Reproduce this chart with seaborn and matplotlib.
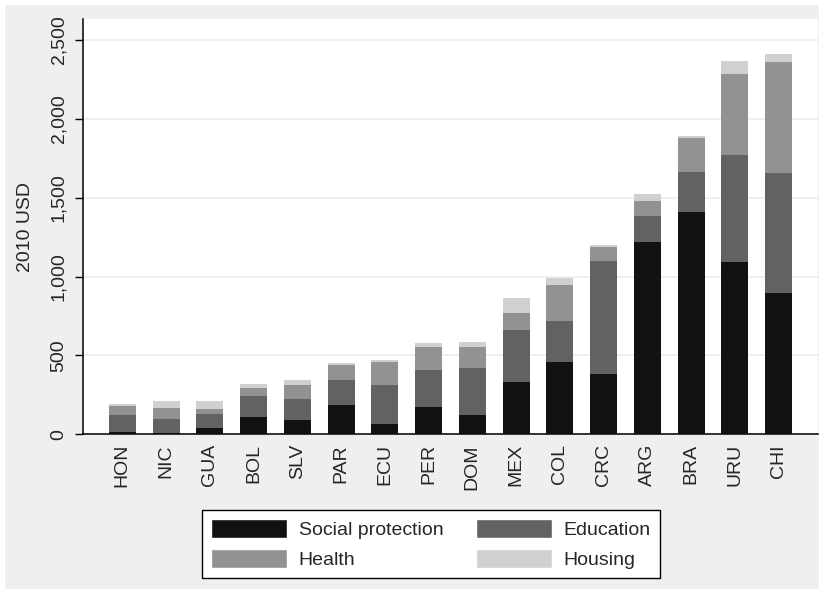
import pandas as pd
import seaborn as sns
import matplotlib.pyplot as plt
from matplotlib.patches import Rectangle, Patch

countries = ['HON', 'NIC', 'GUA', 'BOL', 'SLV', 'PAR', 'ECU', 'PER',
             'DOM', 'MEX', 'COL', 'CRC', 'ARG', 'BRA', 'URU', 'CHI']
social = [13, 6, 38, 109, 89, 185, 64, 173, 122, 332, 458, 382, 1219, 1409, 1092, 895]
education = [108, 90, 90, 134, 134, 160, 249, 235, 298, 329, 260, 716, 164, 253, 678, 761]
health = [58, 70, 32, 51, 90, 95, 147, 145, 133, 108, 228, 87, 93, 218, 513, 703]
housing = [13, 45, 51, 25, 32, 11, 12, 28, 32, 95, 47, 15, 49, 10, 82, 51]
yticks = [0, 500, 1000, 1500, 2000, 2500]
ytick_labels = ['0', '500', '1,000', '1,500', '2,000', '2,500']

# tabla con los acumulados para apilar
df = pd.DataFrame({'country': countries, 'social': social, 'education': education,
                   'health': health, 'housing': housing})
df['c1'] = df['social']
df['c2'] = df['c1'] + df['education']
df['c3'] = df['c2'] + df['health']
df['c4'] = df['c3'] + df['housing']

sns.set_style("white")
plt.rcParams['font.family'] = ['Liberation Sans', 'DejaVu Sans']

fig = plt.figure(figsize=(8.2, 5.89), dpi=100, facecolor='white')
fig.patches.append(Rectangle((5 / 820, 0), 1, 1 - 5 / 589, transform=fig.transFigure,
                             facecolor='#efefef', edgecolor='none', zorder=-10))
ax = fig.add_axes([83 / 820, 1 - 434.3 / 589, 735 / 820, 415.3 / 589])
ax.set_facecolor('white')

colors = {'c4': '#d0d0d0', 'c3': '#929292', 'c2': '#626262', 'c1': '#111111'}
names = {'c1': 'Social protection', 'c2': 'Education', 'c3': 'Health', 'c4': 'Housing'}
for col in ['c4', 'c3', 'c2', 'c1']:
    sns.barplot(x='country', y=col, data=df, color=colors[col], width=0.62,
                saturation=1, linewidth=0, ax=ax, zorder=3)

ax.set_xlim(-0.9, 15.9)
ax.set_ylim(0, 2632)
ax.set_yticks(yticks)
ax.set_yticklabels(ytick_labels, rotation=90, va='center', fontsize=14)
ax.set_xticks(range(len(countries)))
ax.set_xticklabels(countries, rotation=90, fontsize=14)
ax.tick_params(axis='y', length=5.8, width=1, color='black', pad=5.5, left=True)
ax.tick_params(axis='x', length=0, pad=7)
ax.yaxis.grid(True, color='#ececec', linewidth=1.2, zorder=0)
ax.set_axisbelow(True)
ax.set_xlabel('')
ax.set_ylabel('2010 USD', fontsize=14, labelpad=12)
sns.despine(ax=ax)
for s in ['left', 'bottom']:
    ax.spines[s].set_color('black')
    ax.spines[s].set_linewidth(1.1)

handles = [Patch(facecolor=colors['c1'], label=names['c1']),
           Patch(facecolor=colors['c3'], label=names['c3']),
           Patch(facecolor=colors['c2'], label=names['c2']),
           Patch(facecolor=colors['c4'], label=names['c4'])]
leg = fig.legend(handles=handles, ncol=2, loc='center', fontsize=14,
                 bbox_to_anchor=(431 / 820, 1 - 544 / 589), bbox_transform=fig.transFigure,
                 frameon=True, fancybox=False, edgecolor='black', framealpha=1,
                 handlelength=3.9, handleheight=1.15, handletextpad=0.6,
                 columnspacing=1.7, labelspacing=0.5, borderpad=0.45)
leg.get_frame().set_linewidth(1.0)

fig.savefig('out.png', dpi=100, facecolor=fig.get_facecolor())
